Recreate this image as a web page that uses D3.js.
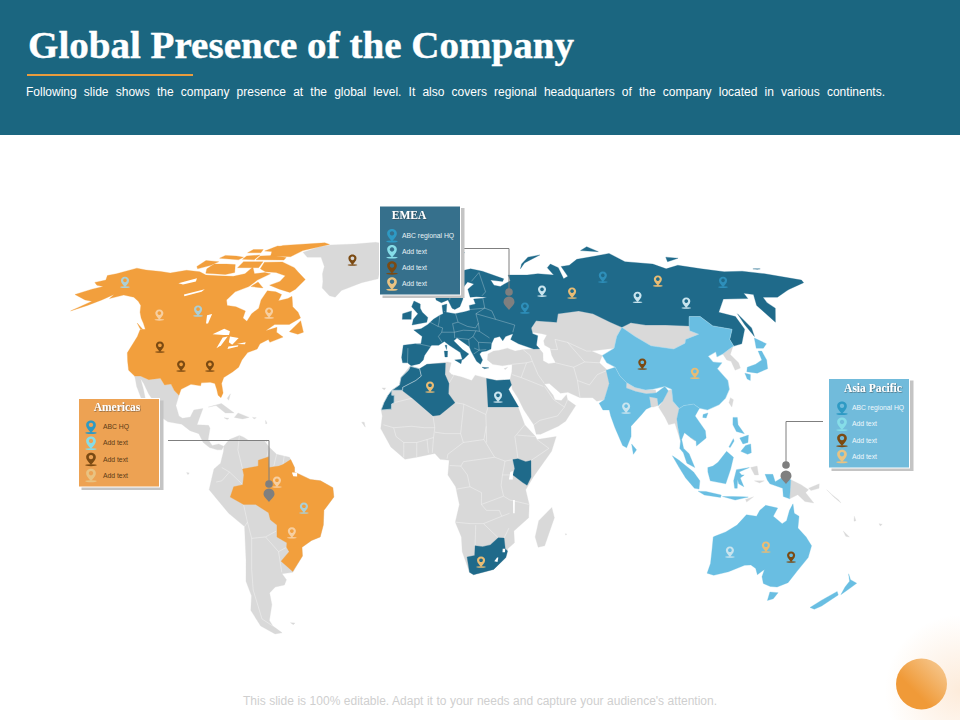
<!DOCTYPE html>
<html><head><meta charset="utf-8">
<script src="https://d3js.org/d3.v7.min.js"></script>
<style>html,body{margin:0;padding:0;background:#fff}svg{display:block}</style>
</head><body><svg id="c" width="960" height="720" xmlns="http://www.w3.org/2000/svg"></svg>
<script>
// ---------- text ----------
const titleText = "Global Presence of the Company";
const subtitleText = "Following slide shows the company presence at the global level. It also covers regional headquarters of the company located in various continents.";
const footerText = "This slide is 100% editable. Adapt it to your needs and capture your audience's attention.";
const americasItems = ["ABC HQ","Add text","Add text","Add text"];
const emeaItems = ["ABC regional HQ","Add text","Add text","Add text"];
const apacItems = ["ABC regional HQ","Add text","Add text","Add text"];

// ---------- geography, [lon, lat] ----------
const northAmerica = [[-168,65.6],[-164,66.5],[-166.5,68.3],[-163,69],[-156.5,71.3],[-150,70.5],[-141,69.9],[-135,69.3],[-128,70.4],[-120,69.8],[-115,68.5],[-108,68.2],[-100,68],[-95,69],[-94,71.8],[-90,69],[-85,69.5],[-81.5,69],[-86,66.5],[-88,64],[-93,62],[-94.5,59],[-92.5,57],[-88,56.5],[-82.5,55],[-82,52.5],[-79.5,51.3],[-79,54],[-77,56],[-78,59],[-77.5,62.4],[-73,62],[-69.5,61],[-69.5,58.7],[-65.5,59.5],[-64,60.3],[-61.5,56.5],[-58,54.5],[-56,52.5],[-60,50.2],[-66.5,50.2],[-69.5,48],[-65,49.2],[-64.5,47.5],[-61,45.8],[-66,44],[-67,45],[-70,43.5],[-70.5,41.7],[-74,40.5],[-75.5,38],[-76,35.5],[-78,33.9],[-81,32],[-81.3,30],[-80,26.8],[-80.5,25.2],[-81.8,26],[-82.8,28],[-84,30],[-86,30.4],[-89.5,30.2],[-89.5,29.2],[-93.5,29.7],[-97,28],[-97.3,26],[-99.5,27.5],[-101.5,29.8],[-104,29.5],[-106.5,31.8],[-111,31.3],[-114.8,32.5],[-117.2,32.5],[-120.5,34.5],[-122.5,37.5],[-124.3,40.4],[-124,46],[-124.7,48.4],[-122.5,48.5],[-125,50.5],[-128,52.5],[-130.5,54.5],[-133,57],[-136,58.5],[-140,60],[-146,60.8],[-151,59.5],[-151,61],[-154,59],[-158,57],[-163,55],[-158,58.5],[-162,59],[-170,61],[-165,63],[-161,64],[-165,64.5]];
const arcticIslands = [
 [[-61.5,66.7],[-64,63],[-66,61.8],[-72,63],[-78,64.5],[-74,66],[-73,68.2],[-79,69.5],[-85,69.8],[-89,71],[-90,73.8],[-80,73.9],[-71,71.5],[-67,69.5]],
 [[-118,71],[-116,69.2],[-105,68.7],[-101,69.5],[-105,72.8],[-110,73],[-117,73]],
 [[-125,72],[-123,71],[-118,72.5],[-116,74],[-124,74.5]],
 [[-90,76.5],[-78,76.2],[-74,79],[-61,82.3],[-65,83.2],[-90,81.7],[-94,80]],
 [[-96,74.8],[-80,74.7],[-80,75.8],[-89,76.8],[-96,76.5]],
 [[-97,78.8],[-91,78.5],[-88,81],[-93,81.4]],
 [[-106,78],[-98,78],[-99,79.5],[-105,79.5]],
 [[-118,75.5],[-106,74.8],[-105,76],[-110,76.5],[-117,76.8]],
 [[-104,75],[-97,74.8],[-97,77],[-104,76.5]],
 [[-102,71.5],[-90.5,71.5],[-91,74],[-102,74]],
 [[-87,64],[-80.5,63.5],[-85,65.8]],
 [[-128,50.7],[-123.5,48.4],[-125,48.7]],
 [[-59,47.7],[-55.5,51.5],[-52.8,47.5],[-55,46.8]]
];
const inlandWaters = [
 [[-92,46.8],[-88,48.7],[-85,47.8],[-84.7,46.5],[-87,46.5]],
 [[-87.8,42],[-87,45.7],[-85,46],[-86.3,43]],
 [[-84,46],[-80,45.5],[-81.7,43.2],[-83.5,44]],
 [[-83,41.7],[-79,42.6],[-79,43],[-83,42.6]],
 [[-79.8,43.4],[-76.3,44],[-76.3,43.3]],
 [[-99,53.5],[-97,53.9],[-96.3,50.5],[-97.2,50.5]],
 [[-117,61],[-109,63],[-109.5,62],[-116,60.3]],
 [[-125,65.3],[-118,67.2],[-117,66],[-122,64.8]],
 [[-51,-0.2],[-49,-0.2],[-49,-1.5],[-50.5,-1.4]],
 [[33,0],[34,0.3],[34,-2.5],[32.5,-2.5]],
 [[34.2,-9.5],[34.9,-9.5],[35,-14],[34.4,-14]],
 [[29,-29],[29.5,-29],[29.3,-30.5],[28,-30.2]],
 [[31,-26],[32,-26],[32,-27.2],[31,-27.2]]
];
const greenland = [[-73,78.2],[-66,80.8],[-60,82],[-45,82.5],[-32,83.5],[-22,82],[-18,80],[-19,76],[-22,72],[-24,70],[-24,67],[-32,65.5],[-41,62.5],[-43,60],[-46,60.5],[-51,63.5],[-52,66],[-54,69],[-55,72],[-60,76],[-68,76]];
const mexicoCentral = [[-117.2,32.5],[-114.8,32.5],[-111,31.3],[-106.5,31.8],[-104,29.5],[-101.5,29.8],[-99.5,27.5],[-97.3,26],[-97.8,22.5],[-96,19],[-94.5,18.2],[-91.5,18.6],[-90.5,21],[-87,21.5],[-88,18],[-88.5,16],[-84,15.8],[-83.3,14.8],[-83.7,11],[-82,9],[-79.5,9.5],[-77.5,8.7],[-78.2,7.5],[-80,7.5],[-83,8.3],[-85.5,10],[-87.5,13],[-91,14],[-94.5,16.2],[-100,17],[-105.5,20],[-106,23],[-109.5,26.5],[-112.5,30],[-114.5,31.7],[-112,28],[-109.5,23],[-112,25],[-115,29],[-116.5,31.5]];
const caribbean = [
 [[-85,22],[-80,23.2],[-74.5,20],[-78,20],[-82,22.5]],
 [[-74.3,18.5],[-73,20],[-68.5,18.5],[-71,18]],
 [[-78.3,18.4],[-76.3,18.2],[-77,17.8]],
 [[-67.2,18.5],[-65.7,18.4],[-66.5,18]],
 [[-78,25],[-77,26.5],[-77.3,24.3]],
 [[-61.7,10.7],[-61,10.7],[-61,10.1]],
 [[-62,17.5],[-61.3,16.5],[-61.8,16.3]]
];
const southAmerica = [[-77.5,8.7],[-75.5,11],[-71.7,12.4],[-70,11.8],[-68,10.7],[-62,10.7],[-60,8.5],[-57,6],[-52,5],[-50,1.5],[-50,0],[-44,-2.5],[-40,-3],[-35.3,-5.3],[-35,-8.5],[-39,-13],[-39.5,-18],[-41,-22],[-44.5,-23.2],[-48.5,-25.5],[-48.7,-28.5],[-53.5,-34],[-58,-34.5],[-56.7,-36.5],[-58,-38.3],[-62,-39],[-65,-41],[-65.5,-45],[-69,-50.5],[-68.5,-52.5],[-65.5,-54.9],[-69,-55.3],[-74,-52.5],[-75.5,-47],[-73,-42],[-73.5,-37],[-71.5,-30],[-70.3,-18.5],[-76,-14],[-83,-6],[-82,-2.5],[-81,1],[-78.5,3],[-77.5,7]];
const brazil = [[-60,5.2],[-59.8,1.5],[-56,2],[-54.5,2.5],[-51.5,4.2],[-50,1.5],[-50,0],[-44,-2.5],[-40,-3],[-35.3,-5.3],[-35,-8.5],[-39,-13],[-39.5,-18],[-41,-22],[-44.5,-23.2],[-48.5,-25.5],[-48.7,-28.5],[-53.5,-33.7],[-57.5,-30.2],[-53.8,-27],[-54.6,-25.5],[-54.3,-24],[-58,-22],[-57.6,-18],[-60,-16.2],[-60.5,-13.8],[-65.3,-11],[-70,-11],[-75,-8.5],[-73.5,-5],[-70,-4.3],[-69.5,-1],[-70,1],[-67,1.5],[-64,2],[-64,4],[-60.5,5]];
const africa = [[-5.5,35.8],[-2,35],[1,36.5],[9.5,37.3],[11,37],[10,34],[11,33],[15,32.2],[19,31],[20.5,32.8],[25,31.8],[29,31],[32,31.2],[32.5,30],[34,27],[37,21.5],[39,16],[43,12],[43.5,11],[51,12],[49,7],[42,-1.5],[39,-6],[40.5,-11],[40.5,-15.5],[35,-20],[35.5,-24],[33,-26],[32.5,-29],[28,-33],[20,-34.8],[18.3,-34],[15,-27],[14.5,-22],[12,-17],[13.5,-11],[12,-5],[9,-1],[9.5,4],[6,4.3],[4,6.3],[-3,5],[-7.5,4.3],[-13,8.5],[-17,14.7],[-16.5,19],[-17,21],[-15,24],[-13,27.7],[-10,29.5],[-9.5,32],[-6,35.8]];
const madagascar = [[49.3,-12],[50.5,-15.5],[47.5,-25],[45,-25.5],[43.5,-22],[44.5,-16.5]];
const morocco = [[-5.8,35.8],[-2,35],[-1.3,32.5],[-3.5,31],[-8.7,28.7],[-8.7,27.7],[-13,27.7],[-13,26],[-12,26],[-12,23.5],[-13,23],[-13,21.3],[-17,21],[-16,23.5],[-14.5,26],[-13,27.7],[-10,29.5],[-9.5,32],[-6.5,34.5]];
const algeria = [[-2,35],[1,36.5],[8.6,36.9],[8.3,33],[9.8,30],[9.5,26.5],[12,23.5],[6,19.3],[3.3,19],[-4.8,25],[-8.7,27.5],[-8.7,28.7],[-3.5,31],[-1.3,32.5]];
const egypt = [[25,31.7],[29,31],[32,31.2],[34.3,31.3],[34.8,29.5],[33.5,28],[34,27],[37,22],[25,22]];
const kenya = [[34,4.2],[36,4.5],[39,3.5],[41,3.9],[41,-1.7],[39.5,-4.5],[37.7,-3.5],[34,-1],[34.7,1.2]];
const southAfrica = [[17,-28.8],[20,-28.3],[20,-25],[23,-25.3],[26,-24.7],[29,-22.3],[31.3,-22.4],[32,-26],[33,-26.8],[32.5,-29],[28,-33],[20,-34.8],[18.3,-34]];
const europeRussia = [[-9,37],[-9.5,38.8],[-9,43],[-4,43.5],[-1.5,43.5],[-1,46],[-4.7,48.3],[-1.5,48.7],[1.5,50.2],[4,52],[7,53.5],[8.5,54],[8.2,57],[10.5,57.5],[10,54.5],[14,54],[18.5,54.7],[21,55.2],[21,57],[24,57.5],[23.5,59.3],[28,59.6],[30,60],[25,60.2],[22,60],[21.5,63],[25,65],[22,65.8],[18,62.5],[17.2,60.5],[18.5,59.5],[16.5,56.5],[14,55.5],[12.8,56],[11.2,59],[8,58],[5.5,59],[5,62],[10,64],[14,67.5],[19,70],[25,71],[31,70],[41,67],[40,66],[34,66.5],[35,64.5],[38,64],[40.5,65],[44,66.2],[44,68.5],[54,68.5],[60,69],[68,68.5],[67,71.5],[70,73],[73,71.5],[72,67],[75,68],[75,72],[80,72.5],[87,75],[100,76.5],[110,77.7],[113,74],[127,73],[131,71],[140,72.5],[150,71],[160,69.8],[170,70],[180,69],[194,66.5],[193,65.5],[181,63],[179,62.5],[170,60],[163,60],[162,58],[163,56],[156.7,51],[155.7,57],[160,61],[156,61.5],[155,59.5],[143,59.3],[135,54.5],[141,53],[140.5,48.5],[135,43.5],[131,42.7],[131,45],[135,48.5],[127.5,49.7],[125,53],[120,53],[117,49.7],[107,50],[98,50],[92,50.8],[87,49.2],[83,51],[77,54],[71,55],[61,54],[59,51],[50,51.5],[47,49],[47,47],[49,46.3],[47.5,43],[48.5,41.8],[46,41.7],[40,43.5],[37,45],[38.5,47],[35,46],[33.5,44.5],[32.5,46],[30,45.5],[28.5,43.5],[28,41.7],[26,41],[24,40.8],[23,40],[24,38],[23,36.5],[21.5,37.5],[19.5,41],[19,42.5],[14,45.5],[12.5,44.5],[16,41.5],[18.5,40],[16.5,38.5],[15.7,38],[15,40.5],[10.5,43],[8.5,44.3],[6,43],[3,43],[0,39.5],[-0.5,38],[-2,36.7],[-5.5,36],[-7,37]];
const europeIslands = [
 [[-5.5,50],[1,51],[1.5,52.7],[-1,54.5],[-2,56],[-2,57.5],[-5,58.6],[-6,56.5],[-3,54],[-5,52]],
 [[-10,52],[-6,52],[-6,55],[-10,54]],
 [[12.5,38],[15.5,38.2],[15,36.7]],
 [[8.3,41],[9.7,41],[9.5,39],[8.5,39]],
 [[8.7,43],[9.5,43],[9.3,41.5]],
 [[23.5,35.5],[26.3,35.3],[24.5,35]],
 [[143,54],[144,49],[142.5,46],[142,50]],
 [[52,71],[56,73.5],[68,77],[60,76],[54,73]],
 [[95,79],[105,78.5],[102,81]],
 [[137,74],[146,75.5],[140,76]],
 [[178,71],[182,71],[180,70.8]],
 [[12,79],[22,80.5],[24,78],[16,76.7]]
];
const asiaGrey = [[26.5,40],[26,38],[28,36.5],[32,36],[36,36.5],[35.5,34],[34.5,31.5],[32.5,30],[34.8,29.5],[35,28],[37,25],[39,21],[42.5,16],[43.3,12.8],[45,12.8],[52,15.5],[55,17.2],[59.5,22.5],[56.5,24.5],[56.3,26.2],[54,24.2],[51.5,24.5],[51,26],[48,29.8],[50,30],[54,26.7],[57,27],[61.5,25.2],[66.5,25.2],[68,24],[71,24.5],[74,30],[74.5,34.5],[72,37],[74,39.5],[70,41],[80,42],[83,46],[85.5,48],[87,49.2],[83,51],[77,54],[71,55],[61,54],[59,51],[50,51.5],[47,49],[47,47.5],[51,47],[53,46.5],[51,44.5],[51,43],[53,42],[53,39.5],[54,37],[51,36.7],[49,37.7],[49.5,40.3],[47.5,43],[46,41.7],[41.5,41.5],[38,41],[35,42],[31,41.2],[29,41]];
const asiaGreySmall = [
 [[87,49.2],[92,50.8],[98,50],[107,50],[117,49.7],[116,48],[119,46.8],[112,45],[111,43.7],[105,41.7],[96,42.8],[91,46]],
 [[124.5,40],[128,41.5],[130.5,42.5],[127.5,39.8],[129.3,37],[129,35.2],[126.5,34.5],[126.5,37.5],[125,38]],
 [[80.5,28.5],[81,30.3],[84,28.6],[88,27.8],[92,27.8],[92,26.8],[88.2,26.5],[84,27.3]],
 [[89,25.5],[92,25],[92,22.5],[90,22],[89,22]],
 [[92,22],[94,24],[97,27.5],[98.5,28],[98,24],[100,21.5],[98.5,18],[98.5,15],[99,10.5],[97.5,16.5],[95,16],[94,18.5]],
 [[102.8,14],[107,14],[106.5,11],[104.5,10.5],[102.8,11.7]],
 [[121,25.2],[122,24.5],[120.8,22],[120,23.5]],
 [[141,-2.6],[145,-4.3],[148,-6],[147,-7],[150.5,-10.5],[147,-10],[144,-7.7],[141,-9.1]],
 [[148,-5.5],[152,-4],[152,-5.5],[149,-6.3]],
 [[155,-6],[157,-7.5],[160,-9.5],[161,-10.5],[158,-8.5]],
 [[164,-20],[167,-22],[165.5,-21.8]],
 [[167,-15],[168,-16.5],[167.3,-16.7]],
 [[177.3,-17.5],[178.6,-17.7],[178,-18.3]],
 [[124,-9.3],[127,-8.4],[124.5,-10.2]],
 [[125.5,1.5],[128,2],[128.5,-1],[127,-1]],
 [[127,-3],[130.8,-3],[129,-3.7]],
 [[-17,28.5],[-15.5,28.5],[-16,27.8]],
 [[-24.5,16.9],[-23,15.2],[-23.5,16.9]],
 [[55.2,-20.9],[55.8,-21],[55.5,-21.4]],
 [[-60,-51.3],[-58,-51.4],[-59,-52]],
 [[-91.5,-0.2],[-90.5,-0.3],[-91,-0.9]],
 [[34,35.5],[33,34.7],[32.4,35]]
];
const china = [[74,39.5],[80,42],[83,46],[85.5,48],[87,49.2],[91,46],[96,42.8],[105,41.7],[111,43.7],[112,45],[119,46.8],[116,48],[117,49.7],[120,53],[125,53],[127.5,49.7],[135,48.5],[131,45],[131,42.7],[128,41.5],[124.5,40],[121.5,39],[122,40.7],[118,39.2],[119,37.3],[122.5,37],[119.5,35],[122,31],[121.5,28],[119,25],[116,22.8],[111,21],[108,21.6],[106,23],[102,22.5],[100,21.5],[98,24],[98.5,28],[96,29],[91,28],[88,27.8],[84,28.6],[81,30.3],[79,32.5],[78,35.5],[75,37]];
const india = [[74,34.5],[78,35.5],[79,32.5],[81,30.3],[80.5,28.5],[84,27.3],[88,26.5],[88.2,26.5],[92,26.8],[96,29],[97,27.5],[94,24],[92,22.5],[92,25],[89,25.5],[89,22],[87,21.3],[85,19.5],[80.3,15.5],[80,12],[78,8.2],[76.5,9],[74,15],[72.8,19],[72.5,21],[70,21],[68.8,23.3],[71,24.5],[74,30]];
const seAsia = [[100,21.5],[102,22.5],[106,23],[108,21.6],[105.8,19],[109,14],[109,11.5],[105,8.8],[105,10.5],[102.5,12],[100.8,13.3],[99.5,11],[100,8],[102,6.2],[104,1.5],[101,3],[99.8,6.5],[98.5,8],[99,10.5],[98.5,15],[98.5,18]];
const apacIslands = [
 [[80,9.5],[81.8,7.5],[80.5,6]],
 [[131,34],[135,33.5],[140,35],[141.5,38],[141.5,41],[140,41],[139.5,38],[136,36.5],[132,35.5]],
 [[130,33.5],[132,33],[131,31],[130,31.5]],
 [[140,42],[142,45.5],[145.5,43.5],[143,42]],
 [[109,19.5],[111,20],[110,18.3],[108.7,18.5]],
 [[120.5,18.5],[122.2,18.5],[122,16],[124,13],[121,13.7],[120,16]],
 [[122,7],[124,9],[126,9.5],[126,6.5],[124.5,6]],
 [[122,11.5],[125.5,12.5],[125,10],[123,9.5]],
 [[117.5,8.5],[119.5,11.3],[119.7,10.5],[118,8.3]],
 [[95.5,5.5],[98,4],[103.5,0],[106,-3],[105.8,-5.8],[104,-5.5],[100.5,-2],[98,1.5]],
 [[105.5,-6.5],[108.5,-6.6],[114.5,-7.8],[114.3,-8.6],[108,-7.8]],
 [[109,1.5],[111,2],[113,3.3],[116.5,7],[119,5],[117.8,1],[116,-4],[110,-3],[109,0]],
 [[119.5,-5.5],[119,-3],[120,0.8],[125,1.5],[121,0],[122,-1],[123,-1],[121.5,-2],[123,-5],[121,-4],[120.5,-2.5],[120.5,-5.5]],
 [[115,-8.3],[119,-8.3],[123,-8.4],[125,-8.5],[120,-9.5]],
 [[131,-0.8],[134,-0.8],[135,-3.3],[138,-1.7],[141,-2.6],[141,-9.1],[138.5,-8.3],[138,-5.5],[133,-4],[132,-2.8]],
 [[144.7,-40.7],[148.3,-40.9],[148,-43],[146,-43.6]],
 [[172.7,-34.5],[175,-36.5],[178.5,-37.7],[177,-39.5],[175.3,-41.6],[174.7,-39],[175,-37]],
 [[172.7,-40.5],[174.3,-41.7],[171,-45.5],[169,-46.6],[166.5,-46],[169,-43.5]]
];
const australia = [[113.5,-22],[114,-26],[115,-31],[115,-34.3],[118,-35],[123.5,-33.8],[129,-31.6],[131.5,-31.5],[134,-32.7],[135.7,-34.8],[137.7,-33],[138,-35.5],[140,-37.8],[143.5,-38.8],[146.5,-39],[150,-37.5],[151.3,-33.5],[153.3,-29],[153,-25],[150,-22],[146,-19],[145.5,-15],[143.5,-14],[142.5,-10.8],[141.5,-13],[141,-16.5],[139.5,-17.5],[135.5,-15],[136.8,-12.2],[132,-11.3],[130,-13],[129,-15],[125,-14.5],[122,-18],[118,-20.3],[114,-21.8]];
const greyBorders = [
 [[-12,23.5],[-5,25],[-4.8,25],[3.3,19],[4,15],[0,15],[-5,15.5],[-12,15]],
 [[-12,15],[-16,16]],[[-12,15],[-11,12],[-8,10],[-8,5]],[[-8,10],[-3,10],[-3,5]],[[-3,10],[1,11],[1.5,6.5]],[[1,11],[3.5,11.7],[3,6.5]],[[3.5,11.7],[4,15]],
 [[4,13.5],[8,13],[14,13],[15,10],[9,6],[8.7,4.5]],[[14,13],[15.5,23],[12,23.5]],[[15.5,23],[24,19.5],[24,15.5],[23,11],[15,10]],
 [[24,19.5],[25,22]],[[9.8,30],[12,33]],[[24,15.5],[24,10]],[[25,22],[37,22]],[[23,11],[27,5],[31,3.7],[34,4.2]],[[27,5],[15,3.5],[14,2],[9.7,2.2]],[[14,2],[16.5,-1],[17.5,-5],[12.3,-5.8]],
 [[34,4.2],[34.7,1.2],[34,-1],[30,-1],[29.5,-4.5],[30.5,-8.2],[22,-11],[22,-7],[17.5,-5]],[[22,-11],[24,-13],[29,-13],[30,-15],[33,-14]],[[30.5,-8.2],[33,-9.5],[40.5,-11]],
 [[12,-17],[18,-17.5],[23,-17.5],[30,-15]],[[20,-18],[20,-25]],[[23,-17.5],[29,-22.3]],[[33,-19],[31.3,-22.4]],
 [[36,4.5],[35,12],[39,16]],[[41,3.9],[48,8],[43.5,11]],[[36,12.5],[43,12]],[[30,-1],[31,3.7]],
 [[-70,1],[-72,7.5],[-71.7,12.4]],[[-60,8.5],[-60.7,5.2]],[[-57,6],[-58,2]],[[-54,5.8],[-54.5,2.5]],
 [[-78,1.5],[-75,0],[-70,-4.3]],[[-80.2,-3.4],[-78,-3],[-75,0]],[[-70,-11],[-69,-17],[-70.3,-18.5]],[[-69,-17],[-68,-22.5],[-62.5,-22],[-58,-20]],[[-62.5,-22],[-58,-27],[-54.6,-25.5]],[[-58,-27],[-58,-34]],[[-68,-22.5],[-70,-33],[-71.5,-40],[-72,-50],[-68.5,-52.5]],
 [[36,36.5],[42,37],[44.5,37.5],[46,33],[48,30]],[[44.5,37.5],[44,39.5],[41.5,41.5]],[[42,37],[39,32],[47.5,29]],[[35.5,33],[39,32]],[[48,29],[51,24.5],[55,22],[52,19],[45,17.5],[42.5,16]],[[55,22],[56.5,24.5]],
 [[61,35.5],[61.5,31],[61.5,25.2]],[[54,37],[61,35.5],[66,37.3],[72,37]],[[61.5,31],[66,29.5],[70,33],[74.5,34.5]],[[53,41.5],[56,41.5],[56,45],[61,44],[68,41],[70,41]],[[61,44],[66,37.3]],
 [[-3.5,43.5],[-1.5,43.3],[3,42.5]],[[-7,42],[-7,37]],[[2.5,51],[6,49.5],[8,49],[7.5,47.5],[6,46],[7.5,44]],[[7,53.5],[6.5,51],[6,49.5]],[[7.5,47.5],[13,47.5],[13,45.5]],[[9,54.8],[9.5,54.8]],[[14.2,54],[15,51],[12.5,50.5],[13,47.5]],[[15,51],[19,49.5],[22.5,49],[24,50.7],[23.5,54],[28,56],[28,59.5]],[[13,47.5],[17,48.2],[22.5,48],[24,47.8],[28,45.5]],[[23.5,54],[32,52],[40,50],[38.5,47.5]],[[24,50.7],[24,47.8]],[[22.5,48],[21,46],[23,44],[28.5,43.8]],[[13.5,45.5],[19,45],[21,46]],[[19,45],[19,42.5]],[[23,44],[23,41.3],[26,41.5]],[[21,42],[23,41.3],[20.5,40]],[[28,56],[31,55],[32,52]],[[21,55.5],[28,56]],[[12,59],[14,65],[20,69]],[[24,66],[29,69.5],[30,62],[27.8,60.5]]
];
// ---------- pins, [lon, lat] by kind ----------
const palePinsOnOrange = [[-120.8,53.6],[-71.2,54.3],[-56.8,-3.4],[-52,-20.6]];
const blueGreyPinsOnOrange = [[-152.8,65.7],[-104.3,55],[-46.7,-12.2]];
const brownPins = [[-111.9,42.4],[-99.7,35.9],[-87.9,35.9],[-41,74.7],[89.5,36.6],[146.4,-28.8]];
const tanPins = [[2.2,28.8],[22.7,-30.5],[72.2,61.6],[119.7,66.2],[109.7,33.5],[135.1,-25.4]];
const whitePins = [[29.1,25.4],[57.9,62.3],[102.6,60],[123.7,57.9],[79.2,21.7],[121.4,-27.1]];
const bluePins = [[46.7,56.1],[93,67.7],[152.3,65.7]];

// ---------- Robinson table ----------
const robLat = [0,5,10,15,20,25,30,35,40,45,50,55,60,65,70,75,80,85,90];
const robX = [1,.9986,.9954,.99,.9822,.973,.96,.9427,.9216,.8962,.8679,.835,.7986,.7597,.7186,.6732,.6213,.5722,.5322];
const robY = [0,.062,.124,.186,.248,.31,.372,.434,.4958,.5571,.6176,.6769,.7346,.7903,.8435,.8936,.9394,.9761,1];
const xFactor = d3.scaleLinear().domain(robLat).range(robX);
const yFactor = d3.scaleLinear().domain(robLat).range(robY);
const lonScale = d3.scaleLinear().domain([0,1]).range([424.5,427.1]);
const latScale = d3.scaleLinear().domain([0,1]).range([472,234]);
const project = (lon,lat)=>[lonScale(lon*xFactor(Math.abs(lat))), latScale(Math.sign(lat)*yFactor(Math.abs(lat)))];
const geo = d3.geoPath(d3.geoTransform({point(x,y){const p=project(x,y);this.stream.point(p[0],p[1]);}}));
const poly = r=>geo({type:"Polygon",coordinates:[[...r,r[0]]]});
const line = r=>geo({type:"LineString",coordinates:r});

const COL = {orange:"#F29F3D",blue:"#1F6A8A",light:"#69BEE2",grey:"#D9D9D9",header:"#1B6680"};
const svg = d3.select("#c");
const defs = svg.append("defs");
const glow = defs.append("radialGradient").attr("id","glow");
glow.append("stop").attr("offset","0").attr("stop-color","#F8BE85").attr("stop-opacity",.3);
glow.append("stop").attr("offset","1").attr("stop-color","#F8BE85").attr("stop-opacity",0);
const ball = defs.append("linearGradient").attr("id","ball").attr("x1","0.15").attr("y1","0.85").attr("x2","0.85").attr("y2","0.15");
ball.append("stop").attr("offset","0.3").attr("stop-color","#F09A38");
ball.append("stop").attr("offset","1").attr("stop-color","#F5C284");
const blur = defs.append("filter").attr("id","sh").attr("x","-30%").attr("y","-30%").attr("width","160%").attr("height","160%");
blur.append("feDropShadow").attr("dx",0.6).attr("dy",0.6).attr("stdDeviation",0.7).attr("flood-color","#333").attr("flood-opacity",.7);

svg.append("rect").attr("width",960).attr("height",720).attr("fill","#fff");
svg.append("circle").attr("cx",960).attr("cy",690).attr("r",75).attr("fill","url(#glow)");

// header
const fitWords=(t,w)=>{const l=t.node().getComputedTextLength();const n=t.text().split(" ").length-1;t.attr("word-spacing",(w-l)/n);};
svg.append("rect").attr("width",960).attr("height",135).attr("fill",COL.header);
svg.append("text").attr("x",28).attr("y",58).attr("font-family","'Liberation Serif',serif").attr("font-weight",700).attr("font-size",37).attr("fill","#fff").attr("stroke","#fff").attr("stroke-width",.4).attr("textLength",546).attr("lengthAdjust","spacingAndGlyphs").text(titleText);
svg.append("rect").attr("x",27).attr("y",74).attr("width",166).attr("height",2).attr("fill","#E99C3E");
fitWords(svg.append("text").attr("x",26).attr("y",95.5).attr("font-family","'Liberation Sans',Arial,sans-serif").attr("font-size",12).attr("fill","#fff").text(subtitleText),859);

// map
const map = svg.append("g");
const fill = (rings,c)=>map.append("g").attr("fill",c).attr("stroke",c).attr("stroke-width",.3).selectAll("path").data(rings).join("path").attr("d",poly);
fill([greenland,mexicoCentral,southAmerica,africa,madagascar,asiaGrey,...asiaGreySmall,...caribbean],COL.grey);
map.append("g").attr("fill","none").attr("stroke","#fff").attr("stroke-opacity",.5).attr("stroke-width",.7).selectAll("path").data(greyBorders).join("path").attr("d",line);
fill([europeRussia,...europeIslands,morocco,algeria,egypt,kenya,southAfrica],COL.blue);
map.append("g").attr("fill","none").attr("stroke","#fff").attr("stroke-opacity",.45).attr("stroke-width",.6).selectAll("path")
  .data(greyBorders.filter(b=>{const [lon,lat]=b[0];return lat>41.2&&lon>-10&&lon<35;})).join("path").attr("d",line);
map.append("path").attr("d",poly(morocco)).attr("fill","none").attr("stroke","#fff").attr("stroke-width",.5);
fill([brazil,northAmerica,...arcticIslands],COL.orange);
fill([china,india,seAsia,australia,...apacIslands],COL.light);
map.append("path").attr("d",poly(china)).attr("fill","none").attr("stroke","#fff").attr("stroke-opacity",.4).attr("stroke-width",.5);
map.append("g").attr("fill","#fff").selectAll("path").data(inlandWaters).join("path").attr("d",poly);

// pins
const PIN = "M0,-6.2C-3,-6.2 -4.6,-4 -4.6,-2C-4.6,1 -1.6,3.4 0,5.6C1.6,3.4 4.6,1 4.6,-2C4.6,-4 3,-6.2 0,-6.2ZM0,-4.1A2.1,2.1 0 1 1 -0.01,-4.1Z";
function pin(g,x,y,c,s){
  const n=g.append("g").attr("transform",`translate(${x},${y}) scale(${s||1})`);
  n.append("ellipse").attr("cy",5.7).attr("rx",5.5).attr("ry",.9).attr("fill",c);
  n.append("path").attr("d",PIN).attr("fill",c).attr("fill-rule","evenodd");
}
const pinG = svg.append("g");
[[palePinsOnOrange,"#F7CFA0"],[blueGreyPinsOnOrange,"#ABCFD5"],[brownPins,"#7B4A12"],[tanPins,"#E9BC74"],[whitePins,"#C9E4EE"],[bluePins,"#2E8FBA"]]
 .forEach(([list,c])=>list.forEach(([lo,la])=>{const p=project(lo,la);pin(pinG,p[0],p[1],c,.88);}));

// leader lines
const lead = svg.append("g");
function leader(d,cx,cy,py){
  lead.append("path").attr("d",d).attr("fill","none").attr("stroke","#7F7F7F").attr("stroke-width",1);
  lead.append("circle").attr("cx",cx).attr("cy",cy).attr("r",3.8).attr("fill","#7F7F7F");
  lead.append("path").attr("transform",`translate(${cx},${py})`).attr("d","M-5.5,-1A5.5,5.5 0 0 1 5.5,-1C5.5,2 2,4 0,7C-2,4 -5.5,2 -5.5,-1Z").attr("fill","#7F7F7F");
}
leader("M168,440.5H269V484",269,484,495);
leader("M461,248.5H509V292",509,292,303);
leader("M823,421.5H786V465",786,465,477);

// panels
function panel(x,y,w,h,bg,title,tx,ty,items,ix,tix,iy,txt){
  const g=svg.append("g");
  g.append("rect").attr("x",x+3).attr("y",y+2).attr("width",w+1).attr("height",h+1).attr("fill","#C4C4C4");
  g.append("rect").attr("x",x).attr("y",y).attr("width",w).attr("height",h).attr("fill",bg).attr("stroke","#fff").attr("stroke-width",1);
  g.append("text").attr("x",tx).attr("y",ty).attr("text-anchor","middle").attr("font-family","'Liberation Serif',serif").attr("font-weight",700).attr("font-size",11.5).attr("fill","#fff").attr("filter","url(#sh)").text(title);
  const cols=["#2E9AC4","#86DDE8","#7B4A12","#E9C382"];
  items.forEach((t,i)=>{
    const yy=iy+i*16.1;
    pin(g,ix,yy,cols[i],1.05);
    g.append("text").attr("x",tix).attr("y",yy+2.3).attr("font-family","'Liberation Sans',Arial,sans-serif").attr("font-size",6.8).attr("fill",txt).text(t);
  });
}
panel(78.5,398.5,81,88.5,"#EDA253","Americas",117,411,americasItems,91,103,427,"#5A3A16");
panel(379.5,206,81,89,"#36708C","EMEA",409,219,emeaItems,392,402,235.5,"#E8F2F6");
panel(828.5,378.5,81,89.5,"#71BBDB","Asia Pacific",873,392,apacItems,842,852,408,"#F0F8FB");

// footer
fitWords(svg.append("text").attr("x",243).attr("y",705).attr("font-family","'Liberation Sans',Arial,sans-serif").attr("font-size",12).attr("fill","#CFCFCF").text(footerText),474);
svg.append("circle").attr("cx",921.5).attr("cy",684).attr("r",25.5).attr("fill","url(#ball)");
</script></body></html>
